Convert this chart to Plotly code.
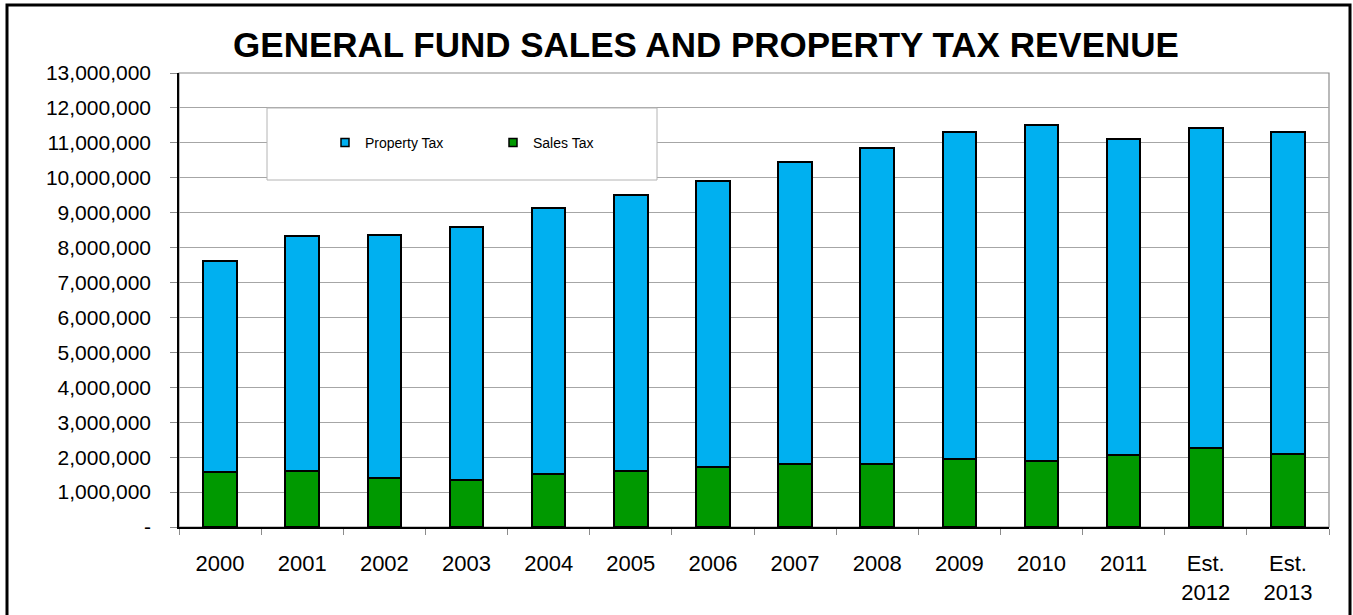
import plotly.graph_objects as go

# Fiscal years shown on the category axis
years = ["2000", "2001", "2002", "2003", "2004", "2005", "2006", "2007",
         "2008", "2009", "2010", "2011", "Est.<br>2012", "Est.<br>2013"]

# Revenue by source (dollars)
sales_tax = [1580000, 1610000, 1390000, 1350000, 1520000, 1600000, 1730000,
             1800000, 1800000, 1960000, 1900000, 2050000, 2270000, 2090000]
property_tax = [6040000, 6720000, 6970000, 7240000, 7620000, 7910000, 8190000,
                8660000, 9060000, 9350000, 9600000, 9060000, 9160000, 9210000]

# Y axis ticks
y_ticks = list(range(0, 13000001, 1000000))
y_tick_text = ["-"] + [f"{v:,}" for v in y_ticks[1:]]

BLUE = "#00B0F0"
GREEN = "#009900"
FONT = "Liberation Sans, Arial, sans-serif"

fig = go.Figure()

fig.add_trace(go.Bar(
    x=years, y=sales_tax, name="Sales Tax", showlegend=False,
    marker=dict(color=GREEN, line=dict(color="black", width=2)), width=0.41,
))
fig.add_trace(go.Bar(
    x=years, y=property_tax, name="Property Tax", showlegend=False,
    marker=dict(color=BLUE, line=dict(color="black", width=2)), width=0.41,
))

# Legend swatches (small outlined squares)
for name, col in [("Property Tax", BLUE), ("Sales Tax", GREEN)]:
    fig.add_trace(go.Scatter(
        x=[None], y=[None], mode="markers", name=name,
        marker=dict(symbol="square", size=8, color=col,
                    line=dict(color="black", width=1.5)),
    ))

W, H = 1353, 615
L, R, T, B = 179, 1329, 73, 527
pw, ph = R - L, B - T


def px(x):
    return (x - L) / pw


def py(y):
    return (B - y) / ph


shapes = [
    # outer chart frame
    dict(type="rect", xref="paper", yref="paper",
         x0=px(7), x1=px(1350), y0=py(5), y1=py(640),
         line=dict(color="black", width=3), fillcolor="rgba(0,0,0,0)", layer="below"),
    # plot area frame (top/right grey)
    dict(type="rect", xref="paper", yref="paper", x0=0, x1=1, y0=0, y1=1,
         line=dict(color="#8c8c8c", width=1.2), fillcolor="rgba(0,0,0,0)", layer="below"),
    # legend box
    dict(type="rect", xref="paper", yref="paper",
         x0=px(267), x1=px(657), y0=py(180), y1=py(108),
         line=dict(color="#b4b4b4", width=1), fillcolor="white", layer="above"),
]

fig.update_layout(
    width=W, height=H,
    margin=dict(l=L, r=W - R, t=T, b=H - B, autoexpand=False),
    paper_bgcolor="white", plot_bgcolor="white",
    barmode="stack", bargap=0.59,
    font=dict(family=FONT, color="black"),
    title=dict(text="<b>GENERAL FUND SALES AND PROPERTY TAX REVENUE</b>",
               font=dict(family=FONT, size=35, color="black"),
               x=px(706), xref="paper", xanchor="center",
               y=1 - 45 / H, yanchor="middle"),
    legend=dict(orientation="h", x=px(325), y=py(143), xanchor="left", yanchor="middle",
                traceorder="normal",
                bgcolor="rgba(0,0,0,0)", borderwidth=0,
                font=dict(family=FONT, size=14, color="black"),
                entrywidth=123, entrywidthmode="pixels", itemclick=False),
    shapes=shapes,
    xaxis=dict(
        type="category", showgrid=False, tickson="boundaries",
        ticks="outside", ticklen=6, tickcolor="#8c8c8c",
        showline=True, linecolor="black", linewidth=1.5,
        tickfont=dict(family=FONT, size=22, color="black"),
        ticklabelstandoff=16,
    ),
    yaxis=dict(
        range=[0, 13000000], tickvals=y_ticks, ticktext=y_tick_text,
        showgrid=True, gridcolor="#a6a6a6", gridwidth=1,
        ticks="outside", ticklen=7, tickcolor="#8c8c8c",
        showline=True, linecolor="black", linewidth=1.5,
        tickfont=dict(family=FONT, size=21, color="black"),
        ticklabelstandoff=15, zeroline=False,
    ),
)

fig.write_html("out.html")
